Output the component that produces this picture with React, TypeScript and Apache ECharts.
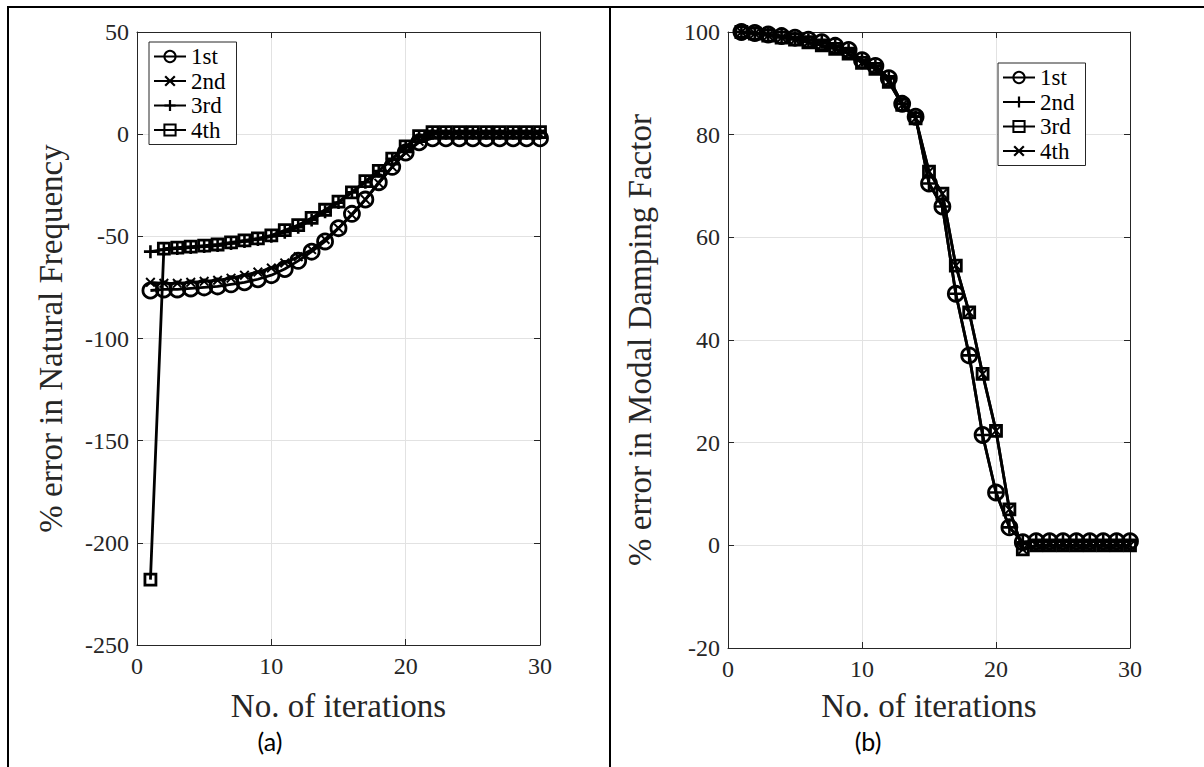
import React, { useEffect, useRef } from "react";
import * as echarts from "echarts";

const iterations = [1, 2, 3, 4, 5, 6, 7, 8, 9, 10, 11, 12, 13, 14, 15, 16, 17, 18, 19, 20, 21, 22, 23, 24, 25, 26, 27, 28, 29, 30];

// (a) % error in natural frequency
const freq1st = [-76.5, -76, -76, -75.5, -75, -74.5, -73.5, -72.5, -71, -69, -66, -62, -57.5, -52.5, -46, -39, -32, -23.5, -16, -9, -4, -2, -2, -2, -2, -2, -2, -2, -2, -2];
const freq2nd = [-72.5, -73, -73, -72.5, -72, -71.5, -70.5, -69, -67.5, -65.5, -63, -60, -56.5, -51.5, -46, -39.5, -32, -24, -16, -9, -3.5, 0, 0, 0, 0, 0, 0, 0, 0, 0];
const freq3rd = [-57.5, -56.5, -56, -55.5, -55, -54.5, -53.5, -52.5, -51.5, -50, -48, -45.5, -42, -38, -33.5, -28.5, -23.5, -18, -12, -6.5, -1.5, 0.5, 0.5, 0.5, 0.5, 0.5, 0.5, 0.5, 0.5, 0.5];
const freq4th = [-218, -56, -55.5, -55, -54.5, -54, -53, -52, -51, -49.5, -47, -44.5, -41, -37, -33, -28.5, -23, -18, -12, -6, -1, 1, 1, 1, 1, 1, 1, 1, 1, 1];

// (b) % error in modal damping factor
const damp1st = [100, 99.8, 99.5, 99.2, 98.9, 98.5, 98, 97.3, 96.5, 94.5, 93.4, 91, 86, 83.5, 70.5, 66, 49, 37, 21.5, 10.3, 3.5, 0.6, 0.8, 0.8, 0.8, 0.8, 0.8, 0.8, 0.8, 0.8];
const damp2nd = [100, 99.8, 99.5, 99.2, 98.9, 98.5, 98, 97.3, 96.5, 94.5, 93.4, 91, 86, 83.5, 70.5, 66, 49, 37, 21.5, 10.3, 3.5, 0.6, 0.8, 0.8, 0.8, 0.8, 0.8, 0.8, 0.8, 0.8];
const damp3rd = [100, 99.7, 99.3, 98.9, 98.5, 98, 97.4, 96.7, 95.8, 94, 92.8, 90.3, 85.8, 83.2, 72.8, 68.5, 54.5, 45.4, 33.4, 22.3, 7, -0.8, 0, 0, 0, 0, 0, 0, 0, 0];
const damp4th = [100, 99.7, 99.3, 98.9, 98.5, 98, 97.4, 96.7, 95.8, 94, 92.8, 90.3, 85.8, 83.2, 72.8, 68.5, 54.5, 45.4, 33.4, 22.3, 7, -0.8, 0, 0, 0, 0, 0, 0, 0, 0];

const modeNames = ["1st", "2nd", "3rd", "4th"];
const xTicks = { min: 0, max: 30, interval: 10 };
const yTicksA = { min: -250, max: 50, interval: 50 };
const yTicksB = { min: -20, max: 100, interval: 20 };

const FONT = "Liberation Serif";
const AX = "#262626";
const GRIDC = "#e2e2e2";
const TICK_FS = 24;
const NAME_FS = 33;

const PLUS = "path://M4,0H6V4H10V6H6V10H4V6H0V4H4Z";
const CROSS = "path://M0,1.4L1.4,0L5,3.6L8.6,0L10,1.4L6.4,5L10,8.6L8.6,10L5,6.4L1.4,10L0,8.6L3.6,5Z";

const markers: Record<string, any> = {
  circle: { symbol: "circle", symbolSize: 15, itemStyle: { color: "rgba(255,255,255,0)", borderColor: "#000", borderWidth: 2.8 } },
  square: { symbol: "rect", symbolSize: 11, itemStyle: { color: "rgba(255,255,255,0)", borderColor: "#000", borderWidth: 2.8 } },
  plus: { symbol: PLUS, symbolSize: 13, itemStyle: { color: "#000", borderWidth: 0 } },
  cross: { symbol: CROSS, symbolSize: 10, itemStyle: { color: "#000", borderWidth: 0 } },
};

function pairs(ys: number[]) {
  return iterations.map((x, i) => [x, ys[i]]);
}

function mkSeries(name: string, grid: number, ys: number[], marker: string) {
  const m = markers[marker];
  return {
    name,
    type: "line",
    xAxisIndex: grid * 2,
    yAxisIndex: grid * 2,
    data: pairs(ys),
    symbol: m.symbol,
    symbolSize: m.symbolSize,
    showAllSymbol: true,
    lineStyle: { color: "#000", width: 2.8 },
    itemStyle: m.itemStyle,
    emphasis: { disabled: true },
  };
}

function xAxes(grid: number, gap: number) {
  return [
    {
      gridIndex: grid,
      type: "value",
      ...xTicks,
      name: "No. of iterations",
      nameLocation: "middle",
      nameGap: gap,
      nameTextStyle: { fontFamily: FONT, fontSize: NAME_FS, color: AX },
      axisLine: { show: true, onZero: false, lineStyle: { color: AX, width: 1 } },
      axisTick: { show: true, inside: true, length: 6, lineStyle: { color: AX } },
      axisLabel: { fontFamily: FONT, fontSize: TICK_FS, color: AX, margin: 9 },
      splitLine: { show: true, lineStyle: { color: GRIDC, width: 1 } },
    },
    {
      gridIndex: grid,
      type: "value",
      position: "top",
      ...xTicks,
      axisLine: { show: true, onZero: false, lineStyle: { color: AX, width: 1 } },
      axisTick: { show: true, inside: true, length: 6, lineStyle: { color: AX } },
      axisLabel: { show: false },
      splitLine: { show: false },
    },
  ];
}

function yAxes(grid: number, ticks: any, name: string, gap: number) {
  return [
    {
      gridIndex: grid,
      type: "value",
      ...ticks,
      name,
      nameLocation: "middle",
      nameGap: gap,
      nameTextStyle: { fontFamily: FONT, fontSize: NAME_FS, color: AX },
      axisLine: { show: true, onZero: false, lineStyle: { color: AX, width: 1 } },
      axisTick: { show: true, inside: true, length: 6, lineStyle: { color: AX } },
      axisLabel: { fontFamily: FONT, fontSize: TICK_FS, color: AX, margin: 8 },
      splitLine: { show: true, lineStyle: { color: GRIDC, width: 1 } },
    },
    {
      gridIndex: grid,
      type: "value",
      position: "right",
      ...ticks,
      axisLine: { show: true, onZero: false, lineStyle: { color: AX, width: 1 } },
      axisTick: { show: true, inside: true, length: 6, lineStyle: { color: AX } },
      axisLabel: { show: false },
      splitLine: { show: false },
    },
  ];
}

function legend(suffix: string, left: number, top: number, lh: number) {
  return {
    left,
    top,
    orient: "vertical",
    data: modeNames.map((n) => n + suffix),
    formatter: (n: string) => n.replace(/_.*$/, ""),
    itemWidth: 32,
    itemHeight: 14,
    itemGap: 1.5,
    padding: [3, 11, 3, 4],
    backgroundColor: "#fff",
    borderColor: AX,
    borderWidth: 1,
    borderRadius: 0,
    selectedMode: false,
    textStyle: { fontFamily: FONT, fontSize: 23, color: "#000", lineHeight: lh },
  };
}

export default function App() {
  const ref = useRef<HTMLDivElement>(null);
  useEffect(() => {
    if (!ref.current) return;
    const chart = echarts.init(ref.current, null, { renderer: "svg" });
    chart.setOption({
      animation: false,
      backgroundColor: "#fff",
      textStyle: { fontFamily: FONT },
      grid: [
        { left: 137, top: 32, width: 403, height: 613 },
        { left: 728, top: 32, width: 402, height: 616 },
      ],
      xAxis: [...xAxes(0, 44), ...xAxes(1, 41)],
      yAxis: [
        ...yAxes(0, yTicksA, "% error in Natural Frequency", 70),
        ...yAxes(1, yTicksB, "% error in Modal Damping Factor", 72),
      ],
      legend: [legend("_a", 149, 42, 21), legend("_b", 998, 63, 21.5)],
      series: [
        mkSeries("1st_a", 0, freq1st, "circle"),
        mkSeries("2nd_a", 0, freq2nd, "cross"),
        mkSeries("3rd_a", 0, freq3rd, "plus"),
        mkSeries("4th_a", 0, freq4th, "square"),
        mkSeries("1st_b", 1, damp1st, "circle"),
        mkSeries("2nd_b", 1, damp2nd, "plus"),
        mkSeries("3rd_b", 1, damp3rd, "square"),
        mkSeries("4th_b", 1, damp4th, "cross"),
      ],
      graphic: [
        { type: "line", shape: { x1: 7, y1: 7, x2: 1204, y2: 7 }, style: { stroke: "#000", lineWidth: 2 } },
        { type: "line", shape: { x1: 8, y1: 6, x2: 8, y2: 767 }, style: { stroke: "#000", lineWidth: 2 } },
        { type: "line", shape: { x1: 610, y1: 6, x2: 610, y2: 767 }, style: { stroke: "#000", lineWidth: 2 } },
        { type: "text", x: 270, y: 741, style: { text: "(a)", fontFamily: "Lato", fontSize: 25, fill: "#000", align: "center", verticalAlign: "middle", textAlign: "center", textVerticalAlign: "middle" } },
        { type: "text", x: 868, y: 741, style: { text: "(b)", fontFamily: "Lato", fontSize: 25, fill: "#000", align: "center", verticalAlign: "middle", textAlign: "center", textVerticalAlign: "middle" } },
      ],
    });
    return () => chart.dispose();
  }, []);
  return (
    <div
      ref={ref}
      style={{ position: "absolute", left: 0, top: 0, width: 1204, height: 767, background: "#fff" }}
    />
  );
}
